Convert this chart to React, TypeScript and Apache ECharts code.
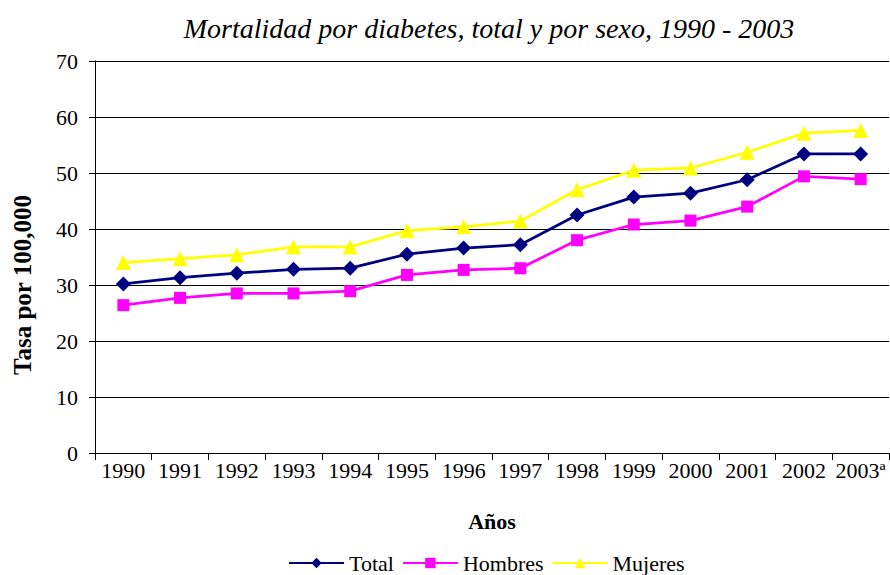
import React, { useEffect, useRef } from "react";
import * as echarts from "echarts";

const years = ["1990", "1991", "1992", "1993", "1994", "1995", "1996", "1997", "1998", "1999", "2000", "2001", "2002", "2003ª"];
const total = [30.2, 31.3, 32.1, 32.8, 33.0, 35.5, 36.6, 37.2, 42.5, 45.7, 46.4, 48.8, 53.4, 53.4];
const hombres = [26.4, 27.7, 28.5, 28.5, 28.9, 31.8, 32.7, 33.0, 38.0, 40.8, 41.5, 44.0, 49.4, 48.9];
const mujeres = [34.0, 34.7, 35.4, 36.8, 36.8, 39.7, 40.4, 41.4, 47.0, 50.5, 50.9, 53.7, 57.1, 57.6];
const yTicks = { min: 0, max: 70, interval: 10 };
const yName = "Tasa por 100,000";

const FONT = "Liberation Serif";

export default function App() {
  const ref = useRef<HTMLDivElement>(null);
  useEffect(() => {
    if (!ref.current) return;
    const chart = echarts.init(ref.current, null, { renderer: "svg" });
    const mk = (name: string, data: number[], color: string, symbol: string, size: number) => ({
      name,
      type: "line",
      data,
      symbol,
      symbolSize: size,
      lineStyle: { color, width: 2.75 },
      itemStyle: { color },
      z: name === "Total" ? 3 : name === "Hombres" ? 2 : 1,
    });
    const lbl = { fontFamily: FONT, fontSize: 22, color: "#000", fontWeight: "normal" };
    chart.setOption({
      animation: false,
      backgroundColor: "#ffffff",
      title: {
        text: "Mortalidad por diabetes, total y por sexo, 1990 - 2003",
        left: 484,
        textAlign: "center",
        top: 9,
        textStyle: { fontFamily: FONT, fontStyle: "italic", fontWeight: "normal", fontSize: 28, color: "#000" },
      },
      grid: { left: 95, right: 1, top: 61, bottom: 122, containLabel: false, outerBoundsMode: "none" },
      legend: {
        bottom: 1,
        left: 288,
        padding: 0,
        itemWidth: 55,
        itemHeight: 13,
        itemGap: 8,
        textStyle: { fontFamily: FONT, fontSize: 22, color: "#000" },
        data: ["Total", "Hombres", "Mujeres"],
      },
      graphic: [
        {
          type: "text",
          x: 22,
          y: 285,
          rotation: Math.PI / 2,
          style: {
            text: yName,
            fontFamily: FONT,
            fontWeight: "bold",
            fontSize: 25,
            fill: "#000",
            align: "center",
            verticalAlign: "middle",
          },
        },
      ],
      xAxis: {
        type: "category",
        data: years,
        boundaryGap: true,
        name: "Años",
        nameLocation: "middle",
        nameGap: 57,
        nameTextStyle: { fontFamily: FONT, fontWeight: "bold", fontSize: 22, color: "#000" },
        axisLine: { lineStyle: { color: "#000", width: 1 } },
        axisTick: { show: true, length: 7, lineStyle: { color: "#000" }, alignWithLabel: false },
        axisLabel: { ...lbl, margin: 6, interval: 0 },
        splitLine: { show: false },
      },
      yAxis: {
        type: "value",
        min: yTicks.min,
        max: yTicks.max,
        interval: yTicks.interval,
        axisLine: { show: true, lineStyle: { color: "#000", width: 1 } },
        axisTick: { show: true, length: 6, lineStyle: { color: "#000" } },
        axisLabel: { ...lbl, margin: 17 },
        splitLine: { show: true, lineStyle: { color: "#000", width: 1 } },
      },
      series: [
        mk("Total", total, "#000080", "diamond", 15),
        mk("Hombres", hombres, "#ff00ff", "rect", 12),
        mk("Mujeres", mujeres, "#ffff00", "triangle", 15),
      ],
    });
    return () => chart.dispose();
  }, []);
  return <div ref={ref} style={{ position: "absolute", left: 0, top: 0, width: 890, height: 575 }} />;
}
